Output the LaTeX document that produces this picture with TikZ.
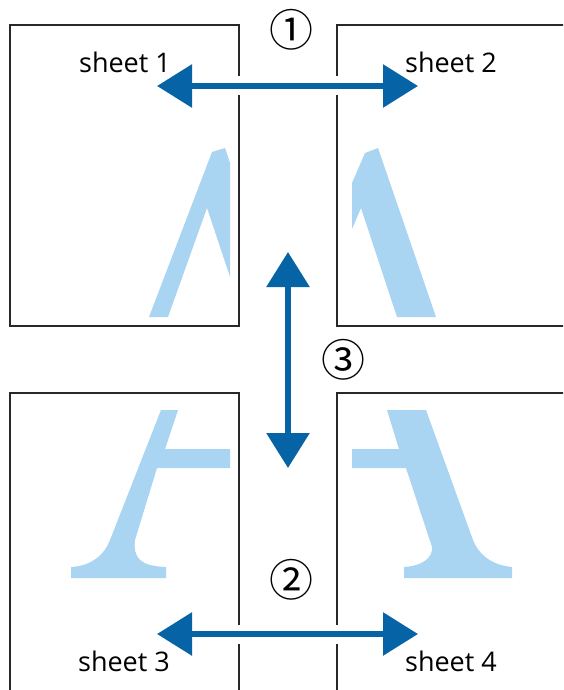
\documentclass[tikz,border=0pt]{standalone}
\usepackage{fontspec}
\setmainfont{Open Sans}
\newfontfamily\circfont{Noto Sans CJK JP}
\usetikzlibrary{arrows.meta}
\definecolor{arrowblue}{RGB}{6,99,166}
\definecolor{letterblue}{RGB}{169,212,242}
\definecolor{edgegray}{RGB}{40,40,40}

\begin{document}
\begin{tikzpicture}[x=1pt, y=-1pt,
  sheetline/.style={draw=edgegray, line width=1.1pt},
  bigarrow/.style={arrowblue, line width=6pt,
    {Triangle[length=35pt,width=42pt]}-{Triangle[length=35pt,width=42pt]},
    preaction={draw=white, line width=19pt, -}},
  sheetlabel/.style={font=\fontsize{27}{32}\selectfont},
  circnum/.style={font=\circfont\fontsize{44}{50}\selectfont, inner sep=0pt}]

\useasboundingbox (0,0) rectangle (563,690);
\clip (0,0) rectangle (563,690);

% Sheets
\draw[sheetline] (10,25) rectangle (239,326);
\draw[sheetline] (337,25) rectangle (600,326);
\draw[sheetline] (10,393) rectangle (239,720);
\draw[sheetline] (337,393) rectangle (600,720);

% Letter pieces
\fill[letterblue] (149,317) -- (212,152) -- (225,148) -- (230,163) -- (230,277)
  -- (207,208) -- (168,317) -- cycle;
\fill[letterblue] (352,183) -- (365,153) -- (378,148) -- (436,317) -- (397,317)
  -- (361,208) -- (352,229) -- cycle;
\fill[letterblue] (161,410) -- (178,410) -- (165,449) -- (230,449) -- (230,468)
  -- (157,468) -- (135,540) .. controls (133,558) and (140,566) .. (166,567)
  -- (166,578) -- (71,578) -- (71,567) .. controls (90,566) and (104,556) .. (110,540)
  -- cycle;
\fill[letterblue] (387,410) -- (426,410) -- (473,540) .. controls (478,553) and (490,565) .. (512,567)
  -- (512,578) -- (404,578) -- (404,567) .. controls (422,566) and (433,558) .. (432,547)
  -- (406,468) -- (352,468) -- (352,449) -- (399,449) -- cycle;

% Points
\coordinate (A1) at (157,86);
\coordinate (A2) at (418,86);
\coordinate (B1) at (288,252);
\coordinate (B2) at (288,468);
\coordinate (C1) at (157,634);
\coordinate (C2) at (418,634);

% Arrows
\draw[bigarrow] (A1) -- (A2);
\draw[bigarrow] (B1) -- (B2);
\draw[bigarrow] (C1) -- (C2);

% Labeling sheets
\node[sheetlabel] (s1) at (125,62) {sheet 1};
\node[sheetlabel] (s2) at (451,62) {sheet 2};
\node[sheetlabel] (s3) at (124,661) {sheet 3};
\node[sheetlabel] (s4) at (451,661) {sheet 4};

% Step numbers
\node[circnum] (n1) at (291,30) {①};
\node[circnum] (n2) at (291,580) {②};
\node[circnum] (n3) at (343,360) {③};

\end{tikzpicture}
\end{document}
